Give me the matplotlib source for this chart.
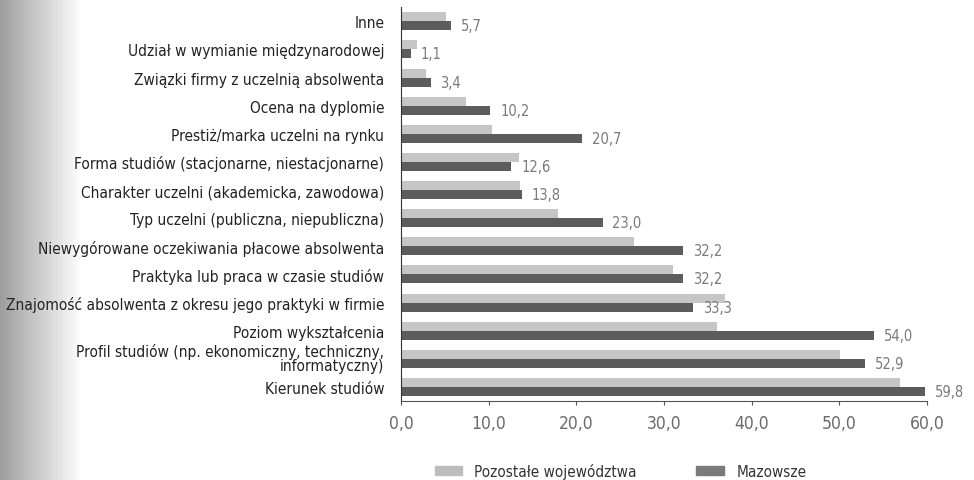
import numpy as np
import matplotlib
matplotlib.use("Agg")
import matplotlib.pyplot as plt
import matplotlib.transforms as mtrans
from matplotlib.patches import Patch
from matplotlib import font_manager as fm

## szukam waskiej czcionki (Narrow / Condensed); jesli brak - zwykla Liberation Sans
waskie = [f for f in fm.fontManager.ttflist
          if ("Narrow" in f.name or "Condensed" in f.name or f.stretch in ("condensed", "semi-condensed"))
          and f.style == "normal" and f.weight in (400, "normal")]
if waskie:
    czcionka = fm.FontProperties(fname=waskie[0].fname)
    skala = 1.0
else:
    czcionka = fm.FontProperties(family="Liberation Sans")
    skala = 0.85

## kategorie od gory do dolu
kategorie = ["Inne",
             "Udział w wymianie międzynarodowej",
             "Związki firmy z uczelnią absolwenta",
             "Ocena na dyplomie",
             "Prestiż/marka uczelni na rynku",
             "Forma studiów (stacjonarne, niestacjonarne)",
             "Charakter uczelni (akademicka, zawodowa)",
             "Typ uczelni (publiczna, niepubliczna)",
             "Niewygórowane oczekiwania płacowe absolwenta",
             "Praktyka lub praca w czasie studiów",
             "Znajomość absolwenta z okresu jego praktyki w firmie",
             "Poziom wykształcenia",
             "Profil studiów (np. ekonomiczny, techniczny,\ninformatyczny)",
             "Kierunek studiów"]
mazowsze = [5.7, 1.1, 3.4, 10.2, 20.7, 12.6, 13.8, 23.0, 32.2, 32.2, 33.3, 54.0, 52.9, 59.8]
pozostale = [5.1, 1.8, 2.9, 7.4, 10.4, 13.5, 13.6, 17.9, 26.6, 31.0, 37.0, 36.0, 50.1, 56.9]
ticki = [0, 10, 20, 30, 40, 50, 60]

jasny = "#c6c6c6"
ciemny = "#5c5c5c"
szary_txt = "#7a7a7a"

fig = plt.figure(figsize=(9.74, 4.81), dpi=100)

## cien skanu po lewej stronie
cien = fig.add_axes([0, 0, 0.085, 1], zorder=-1)
grad = np.linspace(0.62, 1.0, 100).reshape(1, -1)
cien.imshow(grad, aspect="auto", cmap="gray", vmin=0, vmax=1, extent=[0, 1, 0, 1])
cien.axis("off")

ax = fig.add_axes([0.4117, 0.164, 0.54, 0.819])
y = np.arange(len(kategorie))
h = 0.32
ax.barh(y - h / 2, pozostale, height=h, color=jasny)
ax.barh(y + h / 2, mazowsze, height=h, color=ciemny)

for i, v in enumerate(mazowsze):
    ax.annotate(f"{v:.1f}".replace(".", ","), (v, i + h / 2), xytext=(7, 0),
                textcoords="offset points", va="center", ha="left",
                fontproperties=czcionka, fontsize=10.5 * skala, color=szary_txt,
                annotation_clip=False)

ax.set_xlim(0, 60)
ax.set_ylim(len(kategorie) - 0.5, -0.5)
ax.set_yticks(y)
etykiety = ax.set_yticklabels(kategorie, fontproperties=czcionka, fontsize=11.1 * skala, color="#222222")
ax.tick_params(axis="y", length=0, pad=12)
## dwulinijkowa etykieta - ciasniej i minimalnie wyzej
etykiety[12].set_linespacing(0.95)
etykiety[12].set_transform(etykiety[12].get_transform() +
                           mtrans.ScaledTranslation(0, 1.5 / 72, fig.dpi_scale_trans))
ax.set_xticks(ticki)
ax.set_xticklabels([f"{t:.1f}".replace(".", ",") for t in ticki],
                   fontproperties=czcionka, fontsize=12.5 * skala, color="#6a6a6a")
ax.tick_params(axis="x", length=3, color="#555555", pad=6)
for s in ["top", "right"]:
    ax.spines[s].set_visible(False)
ax.spines["left"].set_color("#333333")
ax.spines["bottom"].set_color("#555555")

leg_font = czcionka.copy()
leg_font.set_size(11 * skala)
fig.legend(handles=[Patch(color="#bdbdbd"), Patch(color="#7a7a7a")],
           labels=["Pozostałe województwa", "Mazowsze"],
           loc="center", bbox_to_anchor=(0.637, 0.019), ncol=2, frameon=False,
           prop=leg_font, handlelength=1.8, handleheight=0.5, handletextpad=0.8,
           columnspacing=3.9, labelcolor="#333333")

fig.savefig("out.png", dpi=100)
